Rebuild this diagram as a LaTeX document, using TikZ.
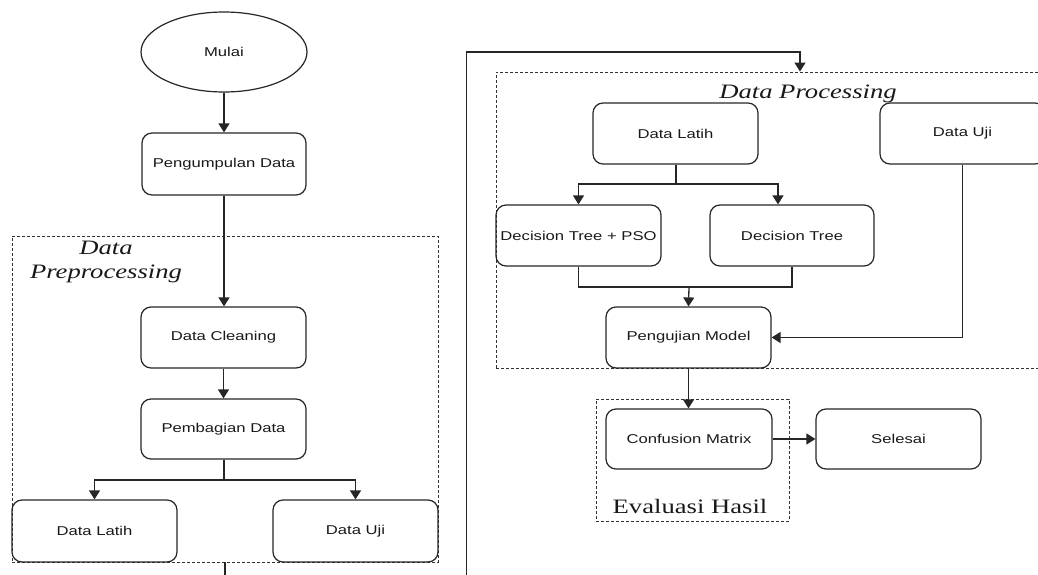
\documentclass[tikz,border=0pt]{standalone}
\usepackage{fontspec}
\setmainfont{Liberation Sans}[FakeStretch=1.3]
\newfontfamily\titlefont{Liberation Serif}[FakeStretch=1.3]
\usetikzlibrary{arrows.meta,shapes.geometric,calc}

\tikzset{
  line/.style={draw=black!85, line width=1.3pt},
  arr/.style={line, -{Triangle[length=9pt,width=11pt]}},
  procbox/.style={draw=black!85, line width=1.2pt, rounded corners=10pt,
    minimum width=165pt, minimum height=61pt, inner sep=0pt,
    font=\fontsize{12.8}{15}\selectfont, text=black!90},
  startbox/.style={procbox, ellipse, rounded corners=0pt,
    minimum width=166pt, minimum height=80pt},
  groupbox/.style={draw=black!80, line width=0.9pt, dash pattern=on 3pt off 2pt,
    inner sep=0pt},
  grouptitle/.style={font=\titlefont\fontsize{20.5}{24}\selectfont, text=black!90,
    align=center, inner sep=0pt},
}

\begin{document}
\begin{tikzpicture}[x=1pt, y=-1pt]
\path[use as bounding box] (0,0) rectangle (1038,575);
\clip (0,0) rectangle (1038,575);

% group frames
\node[groupbox, minimum width=426pt, minimum height=326pt] (prep) at (225,399) {};
\node[groupbox, minimum width=608pt, minimum height=296pt] (proc) at (800,220) {};
\node[groupbox, minimum width=193pt, minimum height=122pt] (eval) at (692.5,460) {};

\node[grouptitle] (prepT) at (106,262) {\itshape Data\\\itshape Preprocessing};
\node[grouptitle] (procT) at (808,94) {\itshape Data Processing};
\node[grouptitle] (evalT) at (690,506) {Evaluasi Hasil};

% left column
\node[startbox] (mulai) at (224,52) {Mulai};
\node[procbox, minimum width=164pt, minimum height=62pt] (kumpul) at (224,164) {Pengumpulan Data};
\node[procbox] (clean) at (223.5,337.5) {Data Cleaning};
\node[procbox, minimum height=60pt] (bagi) at (223.5,429) {Pembagian Data};
\node[procbox, minimum height=62pt] (latihA) at (94.5,531) {Data Latih};
\node[procbox, minimum height=62pt] (ujiA) at (355.5,531) {Data Uji};

% right column
\node[procbox] (latihB) at (675.5,133.5) {Data Latih};
\node[procbox] (ujiB) at (962.5,133.5) {Data Uji};
\node[procbox] (dtpso) at (578.5,235.5) {Decision Tree + PSO};
\node[procbox, minimum width=164pt] (dt) at (792,235.5) {Decision Tree};
\node[procbox] (model) at (688.5,337.5) {Pengujian Model};
\node[procbox, minimum width=166pt, minimum height=60pt] (cm) at (689,439) {Confusion Matrix};
\node[procbox, minimum height=60pt] (selesai) at (898.5,439) {Selesai};

% connectors, left column
\draw[arr] (mulai) -- (kumpul);
\draw[arr] (kumpul.south) -- (kumpul.south |- clean.north);
\draw[arr] (clean.south) -- (clean.south |- bagi.north);
\coordinate (split1) at (224,480);
\draw[line] (bagi.south -| split1) -- (split1);
\draw[arr] (split1) -| (latihA.north);
\draw[arr] (split1) -| (ujiA.north);
\coordinate (prepOut) at (225,580);
\draw[line] (prep.south) -- (prepOut);

% loop into the processing stage
\coordinate (loopIn) at (466.5,580);
\coordinate (loopTop) at (800,52);
\draw[arr] (loopIn) |- (loopTop) -- (proc.north);

% connectors, right column
\coordinate (split2) at (676,184);
\draw[line] (latihB.south -| split2) -- (split2);
\draw[arr] (split2) -| (dtpso.north);
\draw[arr] (split2) -| ([xshift=-14pt]dt.north);
\coordinate (merge) at (689,287);
\draw[line] (dtpso.south) |- (merge) -| (dt.south);
\draw[arr] (merge) -- (model.north);
\draw[arr] (ujiB.south) |- (model.east);
\draw[arr] (model.south) -- (model.south |- cm.north);
\draw[arr] (cm) -- (selesai);
\end{tikzpicture}
\end{document}
